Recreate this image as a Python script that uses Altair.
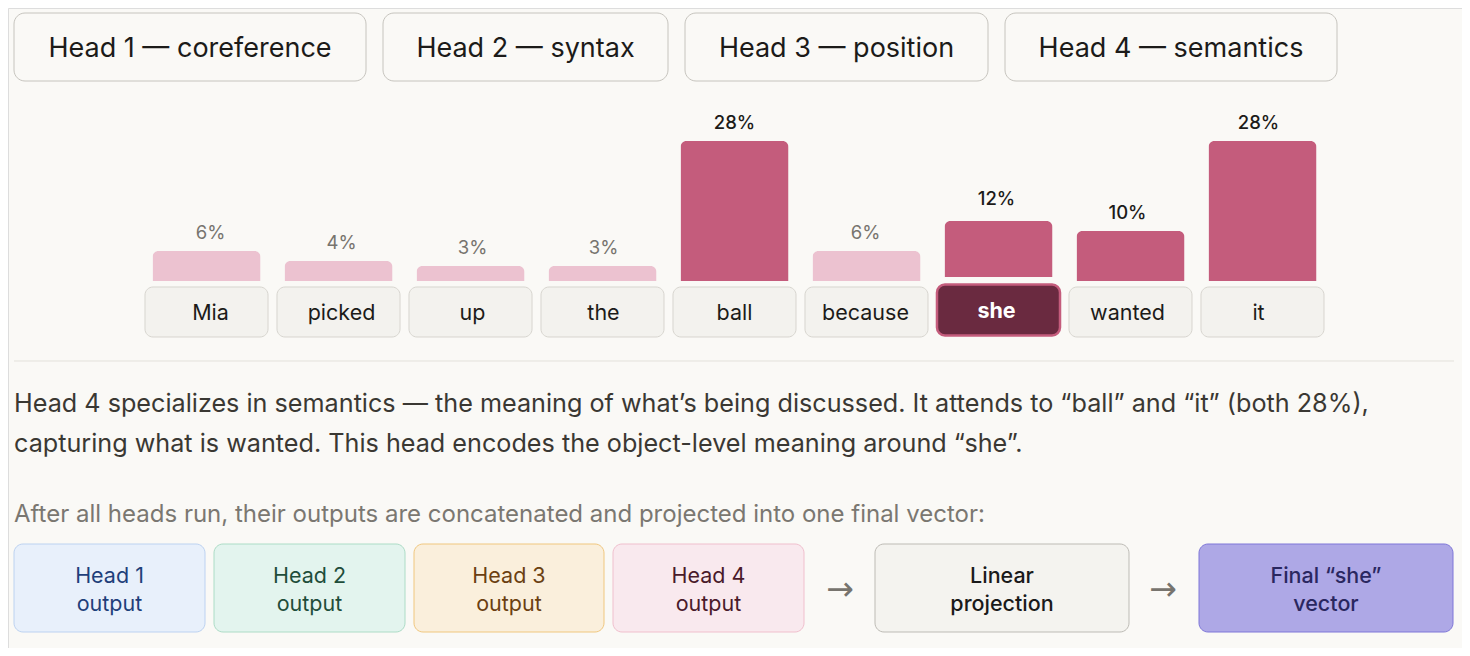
import altair as alt
import pandas as pd

# ---------------- data ----------------
tokens = ["Mia", "picked", "up", "the", "ball", "because", "she", "wanted", "it"]
attention = [6, 4, 3, 3, 28, 6, 12, 10, 28]
focus_token = "she"
strong_threshold = 10

head_buttons = ["Head 1 — coreference", "Head 2 — syntax", "Head 3 — position", "Head 4 — semantics"]
explanation_lines = [
    "Head 4 specializes in semantics — the meaning of what’s being discussed. It attends to “ball” and “it” (both 28%),",
    "capturing what is wanted. This head encodes the object-level meaning around “she”.",
]
pipeline_note = "After all heads run, their outputs are concatenated and projected into one final vector:"
pipeline_line1 = ["Head 1", "Head 2", "Head 3", "Head 4", "Linear", "Final “she”"]
pipeline_line2 = ["output", "output", "output", "output", "projection", "vector"]

# ---------------- layout / style ----------------
M = 8  # page margin
FONT = "Inter"
BG = "#faf9f6"

btn_x0 = [14, 383, 685, 1005]
btn_x1 = [366, 668, 988, 1337]
btn_y0, btn_y1 = 13, 81

pipe_x0 = [14, 214, 414, 613, 875, 1199]
pipe_x1 = [205, 405, 604, 804, 1129, 1453]
pipe_fill = ["#e8f0fb", "#e3f4ee", "#faefdc", "#f9e9ee", "#f4f3ef", "#aea8e6"]
pipe_stroke = ["#bcd2f1", "#acdcc6", "#f0c77f", "#f0bfcd", "#bdbbb5", "#7f77d8"]
pipe_text = ["#1f3f7a", "#1f4d3a", "#6b3f12", "#4a1a2a", "#1a1a1a", "#2a2760"]
pipe_weight = [400, 400, 400, 400, 500, 500]
pipe_y0, pipe_y1 = 544, 632

arrow_x = [840, 1163]

DARK = "#c45c7c"
LIGHT = "#ecc2d0"

# ---------------- tables ----------------
btn_df = pd.DataFrame({
    "label": head_buttons,
    "x0": [v - M for v in btn_x0], "x1": [v - M for v in btn_x1],
    "xc": [(a + b) / 2 - M for a, b in zip(btn_x0, btn_x1)],
    "y0": btn_y0 - M, "y1": btn_y1 - M, "yc": (btn_y0 + btn_y1) / 2 + 2 - M,
})

tok_df = pd.DataFrame({"token": tokens, "value": attention})
tok_df["label"] = tok_df["value"].astype(str) + "%"

para_df = pd.DataFrame({"text": explanation_lines, "x": 14 - M, "y": [404 - M, 444 - M]})
note_df = pd.DataFrame({"text": [pipeline_note], "x": 14 - M, "y": 515 - M})

pipe_df = pd.DataFrame({
    "l1": pipeline_line1, "l2": pipeline_line2,
    "x0": [v - M for v in pipe_x0], "x1": [v - M for v in pipe_x1],
    "xc": [(a + b) / 2 - M for a, b in zip(pipe_x0, pipe_x1)],
    "fill": pipe_fill, "stroke": pipe_stroke, "tc": pipe_text, "w": pipe_weight,
    "y0": pipe_y0 - M, "y1": pipe_y1 - M,
})
arrow_df = pd.DataFrame({"x": [v - M for v in arrow_x], "y": 590 - M, "t": "→"})

# ---------------- scales ----------------
tok_x = alt.X("token:N", sort=tokens, axis=None,
              scale=alt.Scale(domain=tokens, range=[145 - M, 1324 - M], paddingInner=0.068, paddingOuter=0))
pct_y = alt.Y("value:Q", axis=None, scale=alt.Scale(domain=[0, 28], range=[281 - M, 141 - M]))
PX = lambda f: alt.X(f, scale=None, axis=None)
PY = lambda f: alt.Y(f, scale=None, axis=None)

# ---------------- layers ----------------
buttons = alt.Chart(btn_df).mark_rect(cornerRadius=11, fill=BG, stroke="#c6c4be", strokeWidth=1).encode(
    x=PX("x0:Q"), x2="x1:Q", y=PY("y0:Q"), y2="y1:Q")
button_text = alt.Chart(btn_df).mark_text(fontSize=27, color="#1c1b19", baseline="middle").encode(
    x=PX("xc:Q"), y=PY("yc:Q"), text="label:N")

base = alt.Chart(tok_df)
bar_color = alt.condition(alt.datum.value >= strong_threshold, alt.value(DARK), alt.value(LIGHT))
bars = base.transform_filter(alt.datum.token != focus_token).mark_bar(
    cornerRadiusTopLeft=6, cornerRadiusTopRight=6, width=alt.RelativeBandSize(0.878)).encode(
    x=tok_x, y=pct_y, color=bar_color)
bars_focus = base.transform_filter(alt.datum.token == focus_token).mark_bar(
    cornerRadiusTopLeft=6, cornerRadiusTopRight=6, width=alt.RelativeBandSize(0.878), yOffset=-4).encode(
    x=tok_x, y=pct_y, color=bar_color)

lab_weak = base.transform_filter(alt.datum.value < strong_threshold).mark_text(
    fontSize=18.5, color="#77746e", baseline="alphabetic", dy=-12).encode(x=tok_x, y=pct_y, text="label:N")
lab_strong = base.transform_filter(
    (alt.datum.value >= strong_threshold) & (alt.datum.token != focus_token)).mark_text(
    fontSize=18.5, color="#1c1b19", fontWeight=500, baseline="alphabetic", dy=-12).encode(
    x=tok_x, y=pct_y, text="label:N")
lab_focus = base.transform_filter(alt.datum.token == focus_token).mark_text(
    fontSize=18.5, color="#1c1b19", fontWeight=500, baseline="alphabetic", dy=-16).encode(
    x=tok_x, y=pct_y, text="label:N")

tok_boxes = base.transform_filter(alt.datum.token != focus_token).mark_rect(
    cornerRadius=8, fill="#f3f2ee", stroke="#d7d5cf", strokeWidth=1).encode(
    x=tok_x, y=alt.value(287 - M), y2=alt.value(337 - M))
tok_focus_box = base.transform_filter(alt.datum.token == focus_token).mark_rect(
    cornerRadius=8, fill="#6a2a40", stroke=DARK, strokeWidth=2.5).encode(
    x=tok_x, y=alt.value(284.5 - M), y2=alt.value(335.5 - M))
tok_text = base.transform_filter(alt.datum.token != focus_token).mark_text(
    fontSize=21.5, color="#1c1b19", baseline="middle").encode(x=tok_x, y=alt.value(314 - M), text="token:N")
tok_focus_text = base.transform_filter(alt.datum.token == focus_token).mark_text(
    fontSize=21.5, color="#ffffff", fontWeight=700, baseline="middle").encode(
    x=tok_x, y=alt.value(312 - M), text="token:N")

sep = alt.Chart(pd.DataFrame({"a": [0]})).mark_rule(color="#e3e1db", strokeWidth=1).encode(
    x=alt.value(14 - M), x2=alt.value(1454 - M), y=alt.value(361 - M))

para = alt.Chart(para_df).mark_text(fontSize=25.2, color="#3a3833", align="left", baseline="middle").encode(
    x=PX("x:Q"), y=PY("y:Q"), text="text:N")
note = alt.Chart(note_df).mark_text(fontSize=24, color="#7a7771", align="left", baseline="middle").encode(
    x=PX("x:Q"), y=PY("y:Q"), text="text:N")

pipe_boxes = alt.Chart(pipe_df).mark_rect(cornerRadius=9, strokeWidth=1).encode(
    x=PX("x0:Q"), x2="x1:Q", y=PY("y0:Q"), y2="y1:Q",
    fill=alt.Fill("fill:N", scale=None), stroke=alt.Stroke("stroke:N", scale=None))
pipe_t1_reg = alt.Chart(pipe_df).transform_filter(alt.datum.w < 450).mark_text(
    fontSize=21.5, baseline="middle").encode(
    x=PX("xc:Q"), y=alt.value(577 - M), text="l1:N", color=alt.Color("tc:N", scale=None))
pipe_t2_reg = alt.Chart(pipe_df).transform_filter(alt.datum.w < 450).mark_text(
    fontSize=21.5, baseline="middle").encode(
    x=PX("xc:Q"), y=alt.value(605 - M), text="l2:N", color=alt.Color("tc:N", scale=None))
pipe_t1_med = alt.Chart(pipe_df).transform_filter(alt.datum.w >= 450).mark_text(
    fontSize=21.5, fontWeight=500, baseline="middle").encode(
    x=PX("xc:Q"), y=alt.value(577 - M), text="l1:N", color=alt.Color("tc:N", scale=None))
pipe_t2_med = alt.Chart(pipe_df).transform_filter(alt.datum.w >= 450).mark_text(
    fontSize=21.5, fontWeight=500, baseline="middle").encode(
    x=PX("xc:Q"), y=alt.value(605 - M), text="l2:N", color=alt.Color("tc:N", scale=None))
arrows = alt.Chart(arrow_df).mark_text(fontSize=33, color="#77746e", baseline="middle", font="DejaVu Sans").encode(
    x=PX("x:Q"), y=PY("y:Q"), text="t:N")

chart = alt.layer(
    buttons, button_text,
    bars, bars_focus, lab_weak, lab_strong, lab_focus,
    tok_boxes, tok_focus_box, tok_text, tok_focus_text,
    sep, para, note,
    pipe_boxes, pipe_t1_reg, pipe_t2_reg, pipe_t1_med, pipe_t2_med, arrows,
).resolve_scale(x="independent", y="independent").properties(
    width=1454, height=640, autosize="none", padding=0, background=BG
).configure_view(stroke=None).configure(font=FONT)

chart.save("out.html", embed_options={"renderer": "svg", "actions": False})
